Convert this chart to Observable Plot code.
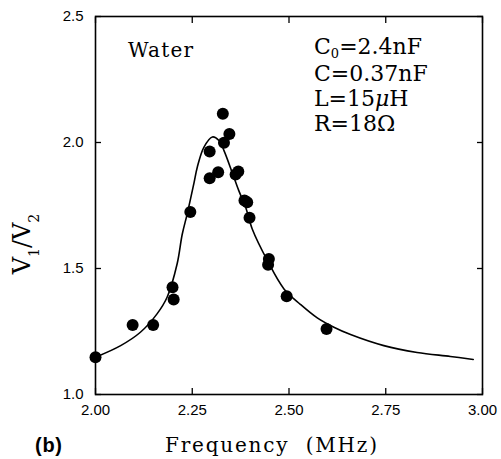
<!DOCTYPE html>
<html><head><meta charset="utf-8">
<script src="https://cdn.jsdelivr.net/npm/d3@7"></script>
<script src="https://cdn.jsdelivr.net/npm/@observablehq/plot@0.6"></script>
<style>html,body{margin:0;padding:0;background:#fff}</style>
</head><body><div id="chart"></div>
<script>
// measured points (frequency in MHz, V1/V2)
const pointFreq  = [2.00, 2.096, 2.149, 2.199, 2.202, 2.245, 2.295, 2.295, 2.317, 2.329, 2.332, 2.346, 2.362, 2.369, 2.385, 2.392, 2.398, 2.446, 2.448, 2.494, 2.597];
const pointRatio = [1.148, 1.276, 1.276, 1.426, 1.377, 1.724, 1.964, 1.858, 1.882, 2.114, 1.999, 2.034, 1.873, 1.885, 1.770, 1.763, 1.701, 1.515, 1.538, 1.390, 1.260];
// fitted curve
const curveFreq  = [2.00, 2.065, 2.116, 2.159, 2.185, 2.211, 2.224, 2.237, 2.254, 2.263, 2.280, 2.302, 2.319, 2.332, 2.353, 2.370, 2.388, 2.405, 2.444, 2.487, 2.530, 2.573, 2.616, 2.659, 2.745, 2.831, 2.917, 2.976];
const curveRatio = [1.148, 1.194, 1.247, 1.320, 1.386, 1.519, 1.635, 1.717, 1.836, 1.902, 1.981, 2.022, 2.008, 1.968, 1.882, 1.810, 1.743, 1.657, 1.532, 1.419, 1.357, 1.304, 1.267, 1.238, 1.194, 1.167, 1.151, 1.139];
const xTicks = [2.00, 2.25, 2.50, 2.75, 3.00];
const yTicks = [1.0, 1.5, 2.0, 2.5];
const sampleLabel = "Water";
const xLabel = "Frequency  (MHz)";
const panelLabel = "(b)";
const paramLines = [
  [["C",""],["0","sub"],["=2.4nF",""]],
  [["C=0.37nF",""]],
  [["L=15",""],["μ","it"],["H",""]],
  [["R=18Ω",""]]
];

const points = pointFreq.map((f, i) => ({f, r: pointRatio[i]}));
const fit = curveFreq.map((f, i) => ({f, r: curveRatio[i]}));

const plot = Plot.plot({
  width: 501, height: 459,
  marginLeft: 95, marginRight: 19, marginTop: 16, marginBottom: 65,
  style: {fontFamily: "'Liberation Sans', Arial, sans-serif", fontSize: "15px", background: "#fff", color: "#000"},
  x: {domain: [2, 3]},
  y: {domain: [1, 2.5]},
  marks: [
    Plot.axisX(xTicks, {anchor: "bottom", tickSize: -6, tickPadding: 16, tickFormat: d3.format(".2f"), label: null, strokeWidth: 1.3, stroke: "#000", fill: "#000"}),
    Plot.axisX(xTicks, {anchor: "top", tickSize: -6, tickFormat: () => "", label: null, strokeWidth: 1.3}),
    Plot.axisY(yTicks, {anchor: "left", tickSize: -6, tickPadding: 18, tickFormat: d3.format(".1f"), label: null, strokeWidth: 1.3, fill: "#000"}),
    Plot.axisY(yTicks, {anchor: "right", tickSize: -6, tickFormat: () => "", label: null, strokeWidth: 1.3}),
    Plot.frame({stroke: "#000", strokeWidth: 1.6}),
    Plot.line(fit, {x: "f", y: "r", curve: "catmull-rom", stroke: "#000", strokeWidth: 1.6}),
    Plot.dot(points, {x: "f", y: "r", r: 6, fill: "#000", stroke: "none"})
  ]
});
document.getElementById("chart").appendChild(plot);

const svg = d3.select(plot);
const slab = "'DejaVu Serif', serif";

// y label V1/V2
const yl = svg.append("text")
  .attr("transform", "translate(30,244) rotate(-90)")
  .attr("text-anchor", "middle")
  .style("font-family", slab).style("font-size", "24px")
  .attr("fill", "#000");
yl.append("tspan").text("V");
yl.append("tspan").attr("dy", 9).style("font-size", "14px").text("1");
yl.append("tspan").attr("dy", -9).text("/V");
yl.append("tspan").attr("dy", 9).style("font-size", "14px").text("2");

// x label
svg.append("text").attr("x", 165).attr("y", 451.5)
  .attr("text-anchor", "start")
  .style("font-family", slab).style("font-size", "20px").style("white-space", "pre")
  .attr("xml:space", "preserve")
  .attr("textLength", 212).attr("lengthAdjust", "spacing")
  .attr("fill", "#000")
  .text(xLabel);

// sample label
svg.append("text").attr("x", 128).attr("y", 57)
  .attr("text-anchor", "start")
  .style("font-family", slab).style("font-size", "20px")
  .attr("textLength", 65).attr("lengthAdjust", "spacing")
  .attr("fill", "#000")
  .text(sampleLabel);

// panel label
svg.append("text").attr("x", 35).attr("y", 452)
  .attr("text-anchor", "start")
  .style("font-family", "'Liberation Sans', Arial, sans-serif").style("font-size", "20px").style("font-weight", "bold")
  .attr("textLength", 27).attr("lengthAdjust", "spacing")
  .attr("fill", "#000")
  .text(panelLabel);

// parameter lines
const baselines = [54, 80.5, 106, 131];
paramLines.forEach((parts, i) => {
  const t = svg.append("text").attr("x", 314).attr("y", baselines[i])
    .attr("text-anchor", "start")
    .style("font-family", slab).style("font-size", "22px").attr("fill", "#000");
  parts.forEach(([s, kind], j) => {
    const sp = t.append("tspan").text(s);
    if (kind === "sub") { sp.attr("dy", 4).style("font-size", "13px"); }
    else if (kind === "it") { sp.style("font-style", "italic"); }
    if (j > 0 && parts[j-1][1] === "sub") sp.attr("dy", -4);
  });
});
</script>
</body></html>
